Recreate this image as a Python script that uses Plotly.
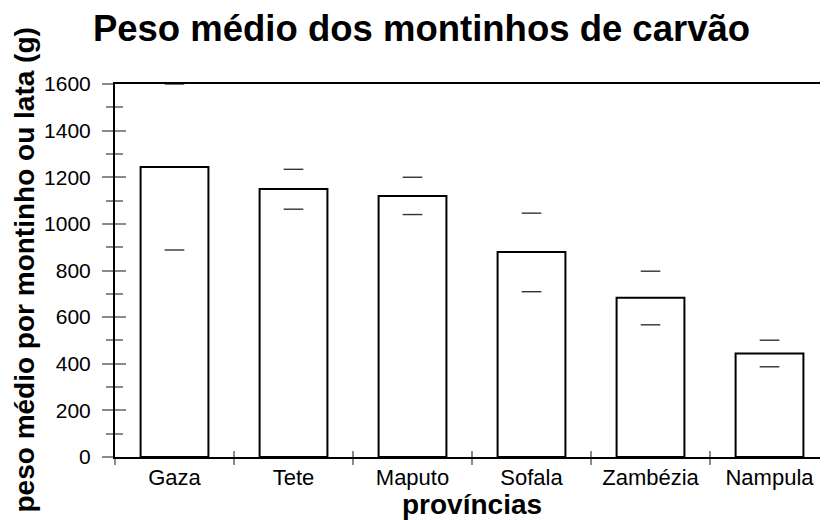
import plotly.graph_objects as go

provincias = ['Gaza', 'Tete', 'Maputo', 'Sofala', 'Zambézia', 'Nampula']
peso_medio = [1244, 1150, 1120, 879, 683, 444]
limite_sup = [1600, 1234, 1200, 1046, 797, 501]
limite_inf = [888, 1063, 1040, 709, 567, 387]
y_ticks = [0, 200, 400, 600, 800, 1000, 1200, 1400, 1600]

FONT = 'Liberation Sans, Arial, sans-serif'
TICK_GREY = '#8a8a8a'

fig = go.Figure()

fig.add_trace(go.Bar(
    x=provincias, y=peso_medio, width=0.57,
    marker=dict(color='white', line=dict(color='black', width=2)),
    showlegend=False,
))

# error caps only, no vertical stem
for vals in (limite_sup, limite_inf):
    fig.add_trace(go.Scatter(
        x=provincias, y=vals, mode='markers',
        marker=dict(symbol='line-ew', size=14, line=dict(color='#333333', width=1.4)),
        showlegend=False, cliponaxis=False,
    ))

fig.update_layout(
    width=828, height=520,
    margin=dict(l=107, r=7, t=76, b=71, autoexpand=False),
    paper_bgcolor='white', plot_bgcolor='white',
    font=dict(family=FONT, color='black', size=21),
    title=dict(text='<b>Peso médio dos montinhos de carvão</b>',
               x=0.4994, xanchor='center', y=0.9615, yanchor='middle',
               font=dict(size=36.5)),
    annotations=[
        dict(text='<b>províncias</b>', xref='paper', yref='paper', x=0.5, y=0,
             xanchor='center', yanchor='middle', yshift=-47, showarrow=False,
             font=dict(size=28)),
        dict(text='<b>peso médio por montinho ou lata (g)</b>', xref='paper', yref='paper',
             x=0, y=0.5, xanchor='center', yanchor='middle', xshift=-91, yshift=0,
             textangle=-90, showarrow=False, font=dict(size=28)),
    ],
)

fig.update_xaxes(
    type='category', range=[-0.5, 5.5], automargin=False,
    showline=True, linecolor='black', linewidth=1.5, mirror=True,
    ticks='outside', tickson='boundaries', ticklen=6, tickcolor=TICK_GREY, tickwidth=1.5,
    tickfont=dict(size=22),
    showgrid=False, zeroline=False,
)

fig.update_yaxes(
    range=[0, 1600], tickvals=y_ticks, automargin=False,
    showline=True, linecolor='black', linewidth=2,
    ticks='outside', ticklen=11, tickcolor=TICK_GREY, tickwidth=1.5, ticklabelstandoff=7,
    minor=dict(dtick=100, ticks='outside', ticklen=7, tickcolor=TICK_GREY, tickwidth=1.5),
    showgrid=False, zeroline=False,
)

# inner halves of the ticks, so they cross the axis lines
fig.update_layout(
    yaxis2=dict(overlaying='y', range=[0, 1600], tickvals=y_ticks, showticklabels=False,
                ticks='inside', ticklen=11, tickcolor=TICK_GREY, tickwidth=1.5,
                minor=dict(dtick=100, ticks='inside', ticklen=8, tickcolor=TICK_GREY, tickwidth=1.5),
                showgrid=False, zeroline=False, showline=False),
    xaxis2=dict(overlaying='x', type='category', range=[-0.5, 5.5], showticklabels=False,
                ticks='inside', tickson='boundaries', ticklen=6, tickcolor=TICK_GREY, tickwidth=1.5,
                categoryarray=provincias, categoryorder='array',
                showgrid=False, zeroline=False, showline=False, side='bottom'),
)
fig.add_trace(go.Scatter(x=provincias, y=peso_medio, xaxis='x2', yaxis='y2',
                         mode='markers', marker=dict(opacity=0), hoverinfo='skip', showlegend=False))

fig.write_html('out.html')
